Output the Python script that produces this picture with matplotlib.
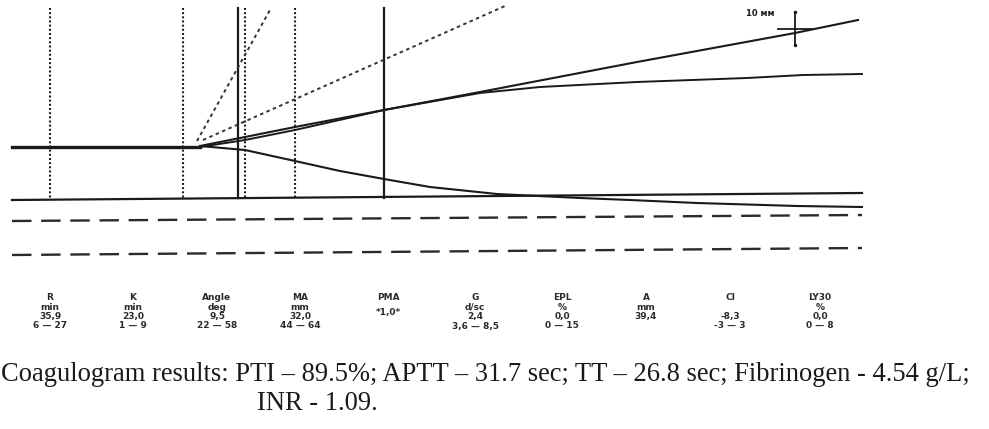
import numpy as np
import matplotlib.pyplot as plt

plt.rcParams['lines.scale_dashes'] = False

# chart frame: x = time axis, y = amplitude (drawn downward like the scan)
baseline_x = [12, 200]
baseline_y = [146.5, 146.5]

upper1_x = [200, 245, 295, 384, 480, 637, 795, 858]
upper1_y = [146, 137, 127, 110, 92, 62, 33, 20]

upper2_x = [200, 245, 295, 384, 480, 540, 637, 747, 803, 862]
upper2_y = [147, 140, 130, 110, 93, 87, 82, 78, 75, 74]

lower_x = [200, 245, 295, 340, 384, 430, 497, 580, 630, 697, 797, 862]
lower_y = [146, 150, 161, 171, 179, 187, 194, 198, 200, 203, 206, 207]

bottom_x = [12, 862]
bottom_y = [200, 193]

dash1_y = [221, 215]
dash2_y = [255, 248]
dash_x = [12, 862]

dotted_x = [50, 183, 245, 295]
solid_x = [238, 384]
vline_top, vline_bottom = 8, 198

steep_x, steep_y = [197, 270], [141, 10]
shallow_x, shallow_y = [203, 505], [140, 6]

cross_x, cross_y = 795, 29

param_names = ['R', 'K', 'Angle', 'MA', 'PMA', 'G', 'EPL', 'A', 'CI', 'LY30']
param_units = ['min', 'min', 'deg', 'mm', '', 'd/sc', '%', 'mm', '', '%']
param_values = ['35,9', '23,0', '9,5', '32,0', '*1,0*', '2,4', '0,0', '39,4', '-8,3', '0,0']
param_ranges = ['6 — 27', '1 — 9', '22 — 58', '44 — 64', '', '3,6 — 8,5',
                '0 — 15', '', '-3 — 3', '0 — 8']
param_pos = [50, 133, 217, 300, 388, 475, 562, 646, 730, 820]

caption1 = 'Coagulogram results: PTI – 89.5%; APTT – 31.7 sec; TT – 26.8 sec; Fibrinogen - 4.54 g/L;'
caption2 = 'INR - 1.09.'

fig = plt.figure(figsize=(9.89, 4.29), dpi=100)
ax = fig.add_axes([0, 0, 1, 1])
ax.set_xlim(0, 989)
ax.set_ylim(429, 0)
ax.axis('off')

ink = '#1a1a1a'
dots = (0, (1.4, 1.6))

for x in dotted_x:
    ax.plot([x, x], [vline_top, vline_bottom], color=ink, lw=1.5, linestyle=dots)
for x in solid_x:
    ax.plot([x, x], [vline_top, vline_bottom], color=ink, lw=1.6)

ax.plot(steep_x, steep_y, color='#333333', lw=1.4, linestyle=(0, (2.5, 2.5)))
ax.plot(shallow_x, shallow_y, color='#333333', lw=1.4, linestyle=(0, (2.5, 2.5)))

ax.plot(baseline_x, baseline_y, color=ink, lw=2.4)
ax.plot(upper1_x, upper1_y, color=ink, lw=1.5)
ax.plot(upper2_x, upper2_y, color=ink, lw=1.4)
ax.plot(lower_x, lower_y, color=ink, lw=1.5)
ax.plot(bottom_x, bottom_y, color=ink, lw=1.6)

ax.plot(dash_x, dash1_y, color='#2a2a2a', lw=1.7, linestyle=(0, (14, 7)))
ax.plot(dash_x, dash2_y, color='#2a2a2a', lw=1.7, linestyle=(0, (14, 7)))

# 10 mm scale cross
ax.plot([cross_x, cross_x], [cross_y - 17, cross_y + 16], color=ink, lw=1.3, marker='.', ms=3)
ax.plot([cross_x - 17, cross_x + 17], [cross_y, cross_y], color=ink, lw=1.3)
ax.text(cross_x - 35, cross_y - 15, '10 мм', fontsize=6, fontweight='bold',
        ha='center', va='center', color=ink)

rows = [297, 307, 316, 326]
for i, x in enumerate(param_pos):
    kw = dict(fontsize=6.5, fontweight='bold', ha='center', va='center', color='#2b2b2b')
    ax.text(x, rows[0], param_names[i], **kw)
    ax.text(x, rows[1], param_units[i], **kw)
    yv = 312 if param_names[i] == 'PMA' else rows[2]
    ax.text(x, yv, param_values[i], **kw)
    ax.text(x, rows[3], param_ranges[i], **kw)

ax.text(1, 381, caption1, fontsize=19.1, family='Liberation Serif', ha='left',
        va='baseline', color=ink)
ax.text(257, 410, caption2, fontsize=19.1, family='Liberation Serif', ha='left',
        va='baseline', color=ink)

fig.savefig('out.png', dpi=100)
